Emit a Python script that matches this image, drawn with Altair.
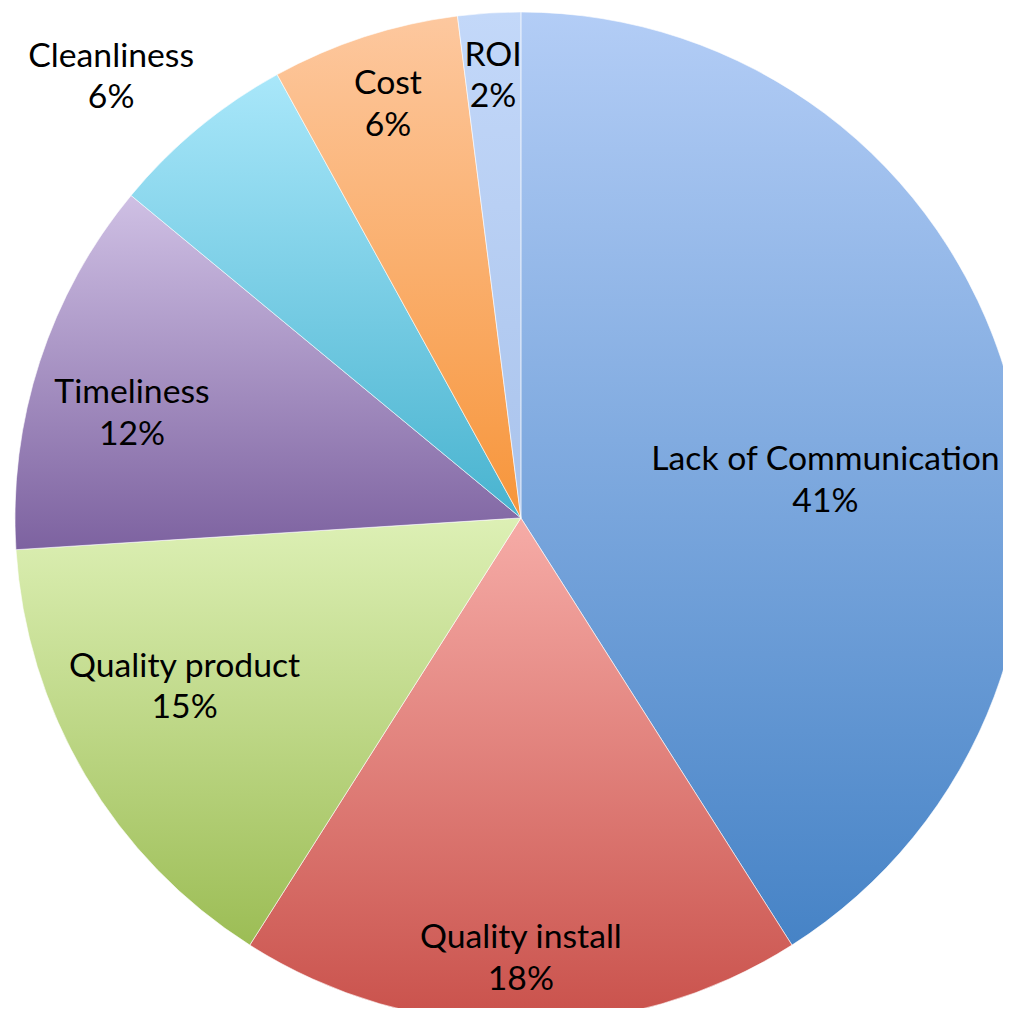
import altair as alt
import pandas as pd
import math

# ---- data ----
categories = ["Lack of Communication", "Quality install", "Quality product",
              "Timeliness", "Cleanliness", "Cost", "ROI"]
shares = [41, 18, 15, 12, 6, 6, 2]
pct_labels = ["41%", "18%", "15%", "12%", "6%", "6%", "2%"]

# ---- styles (gradient top -> bottom, per slice) ----
top_colors = ["#b3cdf6", "#f6aca7", "#ddf0b5", "#cfc0e4", "#a9e7fa", "#fdc89f", "#c3d8f9"]
bottom_colors = ["#4683c6", "#c9514b", "#9cbd55", "#7d62a0", "#48b3cf", "#f7953a", "#a9c3ec"]

# ---- label layout (svg pixel anchors, baseline of first line) ----
label_x = [824, 517, 178, 125, 104, 383, 489]
label_y = [462, 944, 670, 394, 55, 83, 54]
LINE_GAP = 42

CX, CY, R = 517, 510, 510

df = pd.DataFrame({"category": categories, "share": shares, "order": list(range(len(categories)))})

base = (
    alt.Chart(df)
    .transform_window(cum="sum(share)", sort=[alt.SortField("order")], frame=[None, 0])
    .transform_calculate(start="datum.cum - datum.share")
)

theta_scale = alt.Scale(domain=[0, 100], range=[0, 2 * math.pi])

layers = []
for i, cat in enumerate(categories):
    grad = alt.Gradient(
        gradient="linear", x1=0, y1=0, x2=0, y2=1,
        stops=[alt.GradientStop(offset=0, color=top_colors[i]),
               alt.GradientStop(offset=1, color=bottom_colors[i])],
    )
    layer = (
        base.transform_filter(alt.datum.category == cat)
        .mark_arc(color=grad, outerRadius=R, stroke="#ffffff", strokeWidth=1, strokeOpacity=0.6)
        .encode(
            theta=alt.Theta("start:Q", scale=theta_scale),
            theta2="cum:Q",
            x=alt.value(CX),
            y=alt.value(CY),
        )
    )
    layers.append(layer)

rows = []
for i, cat in enumerate(categories):
    rows.append({"text": cat, "lx": label_x[i], "ly": label_y[i]})
    rows.append({"text": pct_labels[i], "lx": label_x[i], "ly": label_y[i] + LINE_GAP})
lab_df = pd.DataFrame(rows)

labels = (
    alt.Chart(lab_df)
    .mark_text(font="Lato", fontSize=34, color="#000000", align="center", baseline="alphabetic")
    .encode(
        x=alt.X("lx:Q", scale=None),
        y=alt.Y("ly:Q", scale=None),
        text="text:N",
    )
)

chart = (
    alt.layer(*layers, labels)
    .properties(width=1003, height=1000, autosize=alt.AutoSizeParams(type="none"), padding=0)
    .configure_view(stroke=None)
)

chart.save("out.html", embed_options={"renderer": "svg", "actions": False})
